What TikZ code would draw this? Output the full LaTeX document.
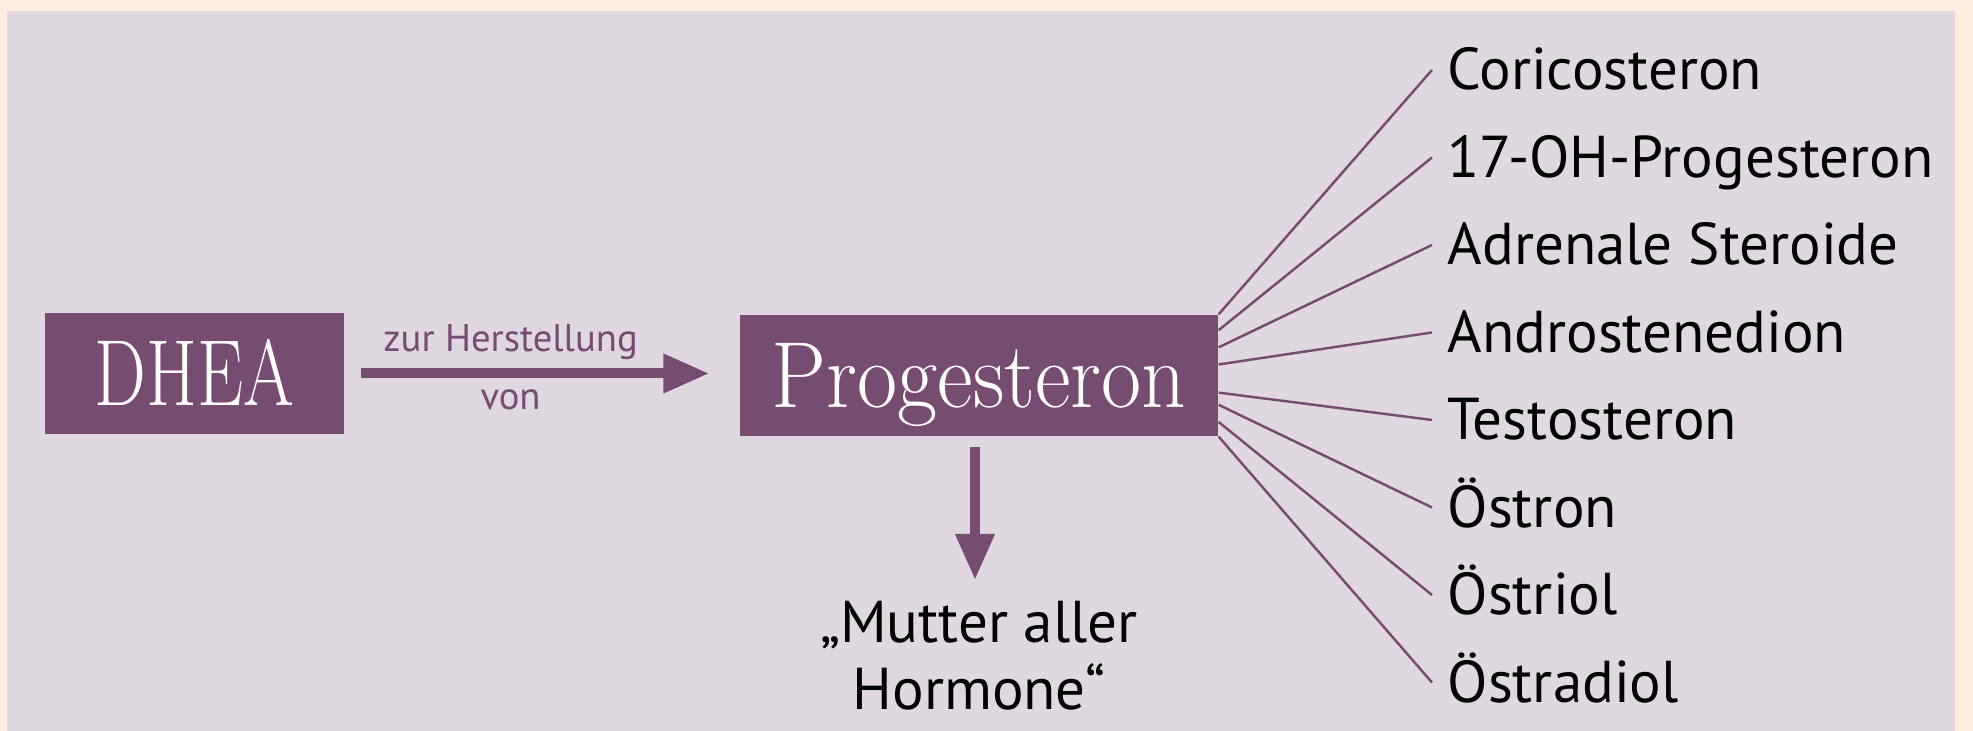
\documentclass[tikz,border=0pt]{standalone}
\usepackage{fontspec}
\usepackage{graphicx}
\newfontfamily\hormfont{PT Sans}
\definecolor{Cream}   {RGB}{251, 238, 222}
\definecolor{Lavender}{RGB}{223, 216, 225}
\definecolor{Plum}    {RGB}{118,  76, 112}
\usetikzlibrary{arrows.meta, positioning, calc}

\begin{document}
\begin{tikzpicture}[
  hbox/.style  = {fill=Plum, text=white, inner sep=0pt,
                  minimum height=1.21cm, text height=0.64cm, text depth=0pt,
                  font=\fontsize{26.7}{30}\selectfont},
  bigarr/.style = {-{Triangle[length=0.46cm, width=0.37cm]}, Plum,
                   line width=0.1cm},
  fan/.style   = {Plum, line width=0.7pt},
  hlbl/.style  = {anchor=base west, inner xsep=0.15cm,
                  text height=0.40cm, text depth=0pt,
                  font=\hormfont\fontsize{16.8}{18}\selectfont},
  vialbl/.style = {anchor=base, text=Plum,
                   font=\hormfont\fontsize{11}{13}\selectfont}
]
  %% background
  \fill[Cream]    (0,0)    rectangle (19.73,7.31);
  \fill[Lavender] (0.07,0) rectangle (19.55,7.20);

  %% boxes
  \node[hbox, minimum width=2.99cm] (dhea) at (1.945,3.575)
    {\scalebox{0.78}[1]{DHEA}};
  \node[hbox, minimum width=4.78cm] (prog) at (9.79,3.555)
    {\scalebox{0.93}[1]{Progesteron}};

  %% DHEA -> Progesteron
  \draw[bigarr] ([xshift=0.16cm]dhea.east) -- ([xshift=-0.30cm]dhea.east -| prog.west)
    node[vialbl, pos=0.43, yshift=0.215cm] {zur Herstellung}
    node[vialbl, pos=0.43, yshift=-0.365cm] {von};

  %% mother of all hormones
  \node[inner sep=0pt, anchor=north, align=center,
        font=\hormfont\fontsize{16.8}{19.3}\selectfont]
    (mutter) at (9.79,1.31) {„Mutter aller\\Hormone“};
  \draw[bigarr] ([xshift=-0.4mm, yshift=-1mm]prog.south)
    -- ([xshift=-0.4mm, yshift=2mm]prog.south |- mutter.north);

  %% derived hormones
  \foreach \txt [count=\i] in {Coricosteron, 17-OH-Progesteron,
      Adrenale Steroide, Androstenedion, Testosteron,
      Östron, Östriol, Östradiol}
    \node[hlbl] (h\i) at (14.32, 6.41-0.875*\i+0.875) {\txt};

  \foreach \f [count=\i] in {0, 0.13, 0.27, 0.41, 0.64, 0.74, 0.88, 1}
    \draw[fan] ($(prog.north east)!\f!(prog.south east)$) -- (h\i.west);
\end{tikzpicture}
\end{document}
